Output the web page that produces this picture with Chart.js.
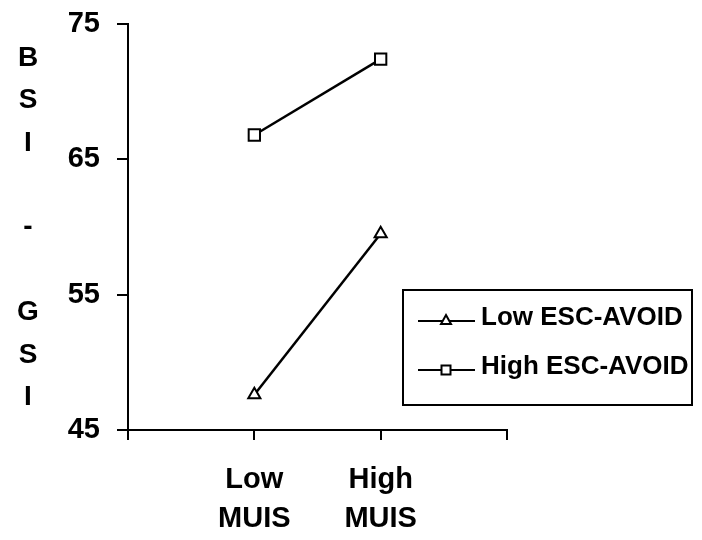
<!DOCTYPE html>
<html>
<head>
<meta charset="utf-8">
<script src="https://cdn.jsdelivr.net/npm/chart.js@4/dist/chart.umd.min.js"></script>
<style>
  body { margin: 0; background: #fff; }
  #wrap { width: 702px; height: 540px; }
</style>
</head>
<body>
<div id="wrap"><canvas id="grafico" width="702" height="540"></canvas></div>
<script>
// Dados
const categorias = ['', ['Low', 'MUIS'], ['High', 'MUIS'], ''];
const lowEscAvoid = [null, 47.6, 59.5, null];
const highEscAvoid = [null, 66.8, 72.4, null];
const yTicks = [45, 55, 65, 75];
const tituloY = ['B', 'S', 'I', '', '-', '', 'G', 'S', 'I'];

const fonte = '"Liberation Sans", Arial, sans-serif';

// titulo do eixo Y, letra por letra
const tituloPlugin = {
    id: 'tituloY',
    afterDraw(chart) {
        const ctx = chart.ctx;
        ctx.save();
        ctx.fillStyle = '#000';
        ctx.font = 'bold 28px ' + fonte;
        ctx.textAlign = 'center';
        ctx.textBaseline = 'middle';
        tituloY.forEach((l, i) => ctx.fillText(l, 28, 58 + i * 42.4));
        ctx.restore();
    }
};

// legenda com caixa
const legendaPlugin = {
    id: 'legendaCaixa',
    afterDraw(chart) {
        const ctx = chart.ctx;
        ctx.save();
        ctx.strokeStyle = '#000';
        ctx.lineWidth = 2;
        ctx.strokeRect(403, 290, 289, 115);
        chart.data.datasets.forEach((ds, i) => {
            const y = 321 + i * 49;
            ctx.beginPath();
            ctx.moveTo(418, y);
            ctx.lineTo(475, y);
            ctx.stroke();
            ctx.fillStyle = '#fff';
            ctx.beginPath();
            if (ds.pointStyle === 'triangle') {
                ctx.moveTo(446, y - 6);
                ctx.lineTo(451, y + 3);
                ctx.lineTo(441, y + 3);
                ctx.closePath();
            } else {
                ctx.rect(441.5, y - 4.5, 9, 9);
            }
            ctx.fill();
            ctx.stroke();
            ctx.fillStyle = '#000';
            ctx.font = 'bold 26px ' + fonte;
            ctx.textAlign = 'left';
            ctx.textBaseline = 'middle';
            ctx.fillText(ds.label, 481, y - 3);
        });
        ctx.restore();
    }
};

window.onload = function() {
    Chart.defaults.font.family = fonte;
    Chart.defaults.font.weight = 'bold';
    Chart.defaults.color = '#000';
    new Chart(document.getElementById('grafico'), {
        type: 'line',
        data: {
            labels: categorias,
            datasets: [{
                label: 'Low ESC-AVOID',
                data: lowEscAvoid,
                borderColor: '#000',
                borderWidth: 2.5,
                pointStyle: 'triangle',
                pointRadius: 7,
                pointBorderWidth: 2,
                pointBackgroundColor: '#fff',
                pointBorderColor: '#000'
            }, {
                label: 'High ESC-AVOID',
                data: highEscAvoid,
                borderColor: '#000',
                borderWidth: 2.5,
                pointStyle: 'rect',
                pointRadius: 8,
                pointBorderWidth: 2,
                pointBackgroundColor: '#fff',
                pointBorderColor: '#000'
            }]
        },
        options: {
            responsive: false,
            animation: false,
            layout: { padding: { top: 24, right: 195, bottom: 0, left: 0 } },
            plugins: {
                legend: { display: false },
                tooltip: { enabled: false }
            },
            scales: {
                x: {
                    offset: false,
                    afterFit(s) { s.height = 110; s.paddingLeft = 0; s.paddingRight = 0; },
                    border: { display: true, color: '#000', width: 2 },
                    grid: { drawOnChartArea: false, color: '#000', lineWidth: 2, tickLength: 10 },
                    ticks: { font: { size: 29, weight: 'bold', lineHeight: 1.35 }, padding: 20, maxRotation: 0, autoSkip: false }
                },
                y: {
                    min: 45,
                    max: 75,
                    afterFit(s) { s.width = 128; s.paddingTop = 0; s.paddingBottom = 0; },
                    afterBuildTicks(s) { s.ticks = yTicks.map(v => ({ value: v })); },
                    border: { display: true, color: '#000', width: 2 },
                    grid: { drawOnChartArea: false, color: '#000', lineWidth: 2, tickLength: 11 },
                    ticks: { font: { size: 29, weight: 'bold' }, padding: 17 }
                }
            }
        },
        plugins: [tituloPlugin, legendaPlugin]
    });
};
</script>
</body>
</html>
